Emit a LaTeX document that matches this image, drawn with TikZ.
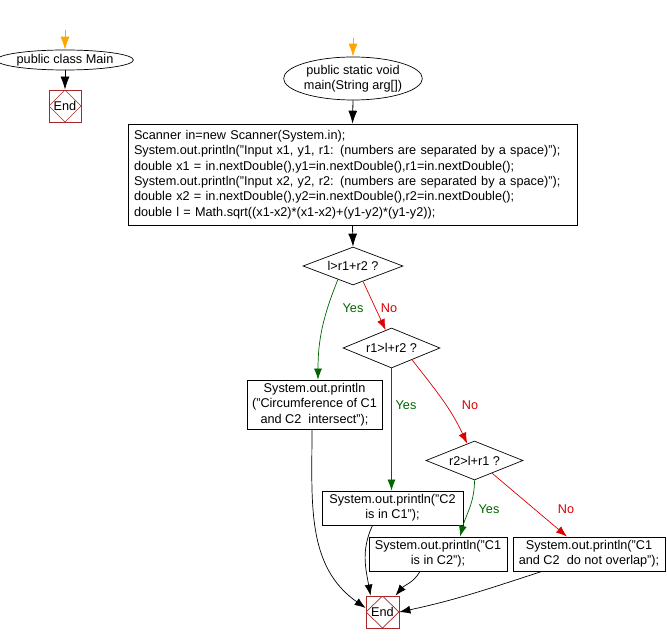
\documentclass[tikz,border=0pt]{standalone}
\usepackage{fontspec}
\setmainfont{Liberation Sans}
\usetikzlibrary{shapes.geometric,arrows.meta,calc}
\definecolor{orangec}{RGB}{255,165,0}
\definecolor{yesc}{RGB}{0,100,0}
\definecolor{noc}{RGB}{220,0,0}
\definecolor{endc}{RGB}{170,40,40}
\begin{document}
\begin{tikzpicture}[x=1pt,y=1pt,
  font=\fontsize{12.7}{15.4}\selectfont,
  every node/.style={inner sep=0pt},
  conn/.style={line width=0.7pt,-{Latex[length=11pt,width=8pt]}},
  bigarr/.style={line width=0.8pt,-{Latex[length=13pt,width=9pt]}},
  ell/.style={draw,ellipse,line width=0.7pt},
  procbox/.style={draw,rectangle,line width=0.8pt,align=center},
  dec/.style={draw,diamond,line width=0.7pt,shape aspect=2.5},
  endbox/.style={draw=endc,rectangle,line width=0.8pt,minimum width=32pt,minimum height=32pt,
    path picture={\draw[endc,line width=0.7pt] (path picture bounding box.north) -- (path picture bounding box.east) -- (path picture bounding box.south) -- (path picture bounding box.west) -- cycle;}},
  yeslab/.style={text=yesc},
  nolab/.style={text=noc}]
\useasboundingbox (0,0) rectangle (667,-644);

% left part
\coordinate (s1) at (65,-30);
\node[ell,minimum width=120pt,minimum height=20pt] (e1) at (65,-60) {public class Main};
\node[endbox] (end1) at (65,-106) {End};
\draw[line width=0.8pt,orangec,-{Latex[length=13pt,width=9pt]}] (s1) -- (e1.north);
\draw[bigarr] (e1.south) -- (end1.north);

% main part
\coordinate (s2) at (353,-38);
\node[ell,minimum width=124pt,minimum height=43pt,align=center] (e2) at (353,-78.5) {public static void\\main(String arg[])};
\node[procbox,align=left,text width=437pt,inner sep=6pt,minimum height=93pt] (box) at (352.5,-174.5)
{Scanner in=new Scanner(System.in);\\
System.out.println("Input x1, y1, r1: (numbers are separated by a space)");\\
double x1 = in.nextDouble(),y1=in.nextDouble(),r1=in.nextDouble();\\
System.out.println("Input x2, y2, r2: (numbers are separated by a space)");\\
double x2 = in.nextDouble(),y2=in.nextDouble(),r2=in.nextDouble();\\
double l = Math.sqrt((x1-x2)*(x1-x2)+(y1-y2)*(y1-y2));};
\draw[line width=0.8pt,orangec,-{Latex[length=13pt,width=9pt]}] (s2) -- (e2.north);
\draw[bigarr] (e2.south) -- (box.north);

\node[dec,minimum width=100pt,minimum height=38pt] (d1) at (353,-266) {l>r1+r2 ?};
\draw[bigarr] (box.south) -- (d1.north);

\node[procbox,minimum width=135pt,minimum height=49pt] (b1) at (314.5,-404.5)
{System.out.println\\("Circumference of C1\\and C2\ \ intersect");};
\node[dec,minimum width=97pt,minimum height=40pt] (d2) at (391.5,-348) {r1>l+r2 ?};
\node[dec,minimum width=97pt,minimum height=39pt] (d3) at (474.5,-460.5) {r2>l+r1 ?};
\node[procbox,minimum width=141pt,minimum height=34pt] (b2) at (392.5,-508)
{System.out.println("C2\\is in C1");};
\node[procbox,minimum width=138pt,minimum height=34pt] (b3) at (438,-554)
{System.out.println("C1\\is in C2");};
\node[procbox,minimum width=152pt,minimum height=34pt] (b4) at (589,-554)
{System.out.println("C1\\and C2\ \ do not overlap");};
\node[endbox,minimum width=33pt] (end2) at (382.5,-612) {End};

% decisions
\draw[conn,yesc] ($(d1.west)!0.7!(d1.south)$) to[out=-112,in=90] ($(b1.north)+(3.5,0)$);
\node[yeslab] at (353,-308) {Yes};
\draw[conn,noc] ($(d1.south)!0.2!(d1.east)$) -- ($(d2.north)!0.12!(d2.west)$);
\node[nolab] at (389,-308) {No};

\draw[conn,yesc] (d2.south) -- (d2.south |- b2.north);
\node[yeslab] at (406,-405) {Yes};
\draw[conn,noc] ($(d2.south)!0.42!(d2.east)$) to[out=-52,in=115] ($(d3.north)!0.15!(d3.west)$);
\node[nolab] at (470,-405) {No};

\draw[conn,yesc] (d3.south) to[out=-90,in=75] ($(b3.north)+(22,0)$);
\node[yeslab] at (489,-509) {Yes};
\draw[conn,noc] ($(d3.south)!0.36!(d3.east)$) -- ($(b4.north)+(-22,0)$);
\node[nolab] at (566,-509) {No};

% to end
\draw[conn] ($(b1.south)+(-2.5,0)$) to[out=-90,in=145] ($(end2.west)+(0,4)$);
\draw[conn] ($(b2.south)+(-20,0)$) to[out=-115,in=100] ($(end2.north)+(-12,0)$);
\draw[conn] ($(b3.south)+(-18,0)$) to[out=-120,in=50] ($(end2.north)+(13,0)$);
\draw[conn] ($(b4.south)+(-47,0)$) to[out=-162,in=12] (end2.east);
\end{tikzpicture}
\end{document}
